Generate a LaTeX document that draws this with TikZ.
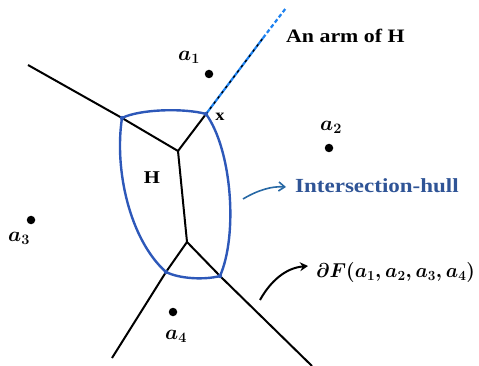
\documentclass[tikz,border=0pt]{standalone}
\usepackage{fontspec}
\usepackage{graphicx}
\setmainfont{Liberation Serif}[FakeStretch=1.15]
\usetikzlibrary{arrows.meta}
\definecolor{hullblue}{RGB}{45,88,185}
\definecolor{armblue}{RGB}{30,130,240}
\definecolor{labblue}{RGB}{47,84,150}
\definecolor{arrblue}{RGB}{40,105,165}
\tikzset{
  edge/.style={line width=2pt, black},
  hull/.style={line width=2.4pt, hullblue},
  site/.style={circle, fill=black, inner sep=0pt, minimum size=8.5pt},
  lab/.style={inner sep=0pt, font=\fontsize{19}{22}\selectfont\bfseries},
  mlab/.style={inner sep=0pt, font=\fontsize{21}{25}\selectfont\boldmath},
}
\begin{document}
\begin{tikzpicture}[x=1pt,y=-1pt]
\useasboundingbox (0,0) rectangle (479,366);
% vertices
\coordinate (L0) at (28,65);
\coordinate (P1) at (122,118);
\coordinate (J1) at (178,151);
\coordinate (X) at (206,114);
\coordinate (Amid) at (263,38);
\coordinate (Aend) at (286,8);
\coordinate (J2) at (187,242);
\coordinate (P4) at (166,272);
\coordinate (P3) at (220,276);
\coordinate (B1) at (112,358);
\coordinate (B2) at (312,366);
% black skeleton
\draw[edge] (L0) -- (P1) -- (J1) -- (X);
\draw[edge] (J1) -- (J2);
\draw[edge] (J2) -- (P4) -- (B1);
\draw[edge] (J2) -- (P3) -- (B2);
% arm
\draw[line width=2.2pt, armblue] (X) -- (Amid);
\draw[line width=2.2pt, armblue, dash pattern=on 4pt off 2.5pt] (Amid) -- (Aend);
\draw[line width=1.3pt, black, dash pattern=on 2.5pt off 4pt] (X) -- (Amid);
% hull
\draw[hull] (P1) .. controls (140,109) and (185,108) .. (X)
  .. controls (232,150) and (238,235) .. (P3)
  .. controls (205,280) and (180,279) .. (P4)
  .. controls (130,240) and (114,170) .. (P1) -- cycle;
\foreach \p in {P1,X,P3,P4} \fill[hullblue] (\p) circle (2.2pt);
% sites
\node[site] (s1) at (209,74) {};
\node[site] (s2) at (329,148) {};
\node[site] (s3) at (31,220) {};
\node[site] (s4) at (173,312) {};
\node[mlab] (l1) at (189,57) {$a_1$};
\node[mlab] (l2) at (331,127) {$a_2$};
\node[mlab] (l3) at (19,238) {$a_3$};
\node[mlab] (l4) at (176,336) {$a_4$};
% labels
\node[lab, font=\fontsize{16}{19}\selectfont\bfseries] (xl) at (220,117) {x};
\node[lab, font=\fontsize{18}{20}\selectfont\bfseries] (hl) at (152,178) {H};
\node[lab, anchor=west] (arm) at (286,36) {An arm of H};
\node[lab, anchor=west, text=labblue, font=\fontsize{20}{23}\selectfont\bfseries] (ih) at (295,186) {Intersection-hull};
\node[mlab, anchor=west] (df) at (316,272) {\scalebox{0.94}[0.97]{$\partial F(a_1,a_2,a_3,a_4)$}};
% arrows
\coordinate (ih0) at (243,199);
\coordinate (ih1) at (286,187);
\draw[arrblue, line width=1.6pt, -{Straight Barb[length=6pt,width=9pt]}] (ih0) .. controls (258,190) and (272,186) .. (ih1);
\coordinate (df0) at (260,300);
\coordinate (df1) at (308,266);
\draw[black, line width=2pt, -{Stealth[length=8pt,width=9pt]}] (df0) .. controls (270,282) and (285,268) .. (df1);
\end{tikzpicture}
\end{document}
